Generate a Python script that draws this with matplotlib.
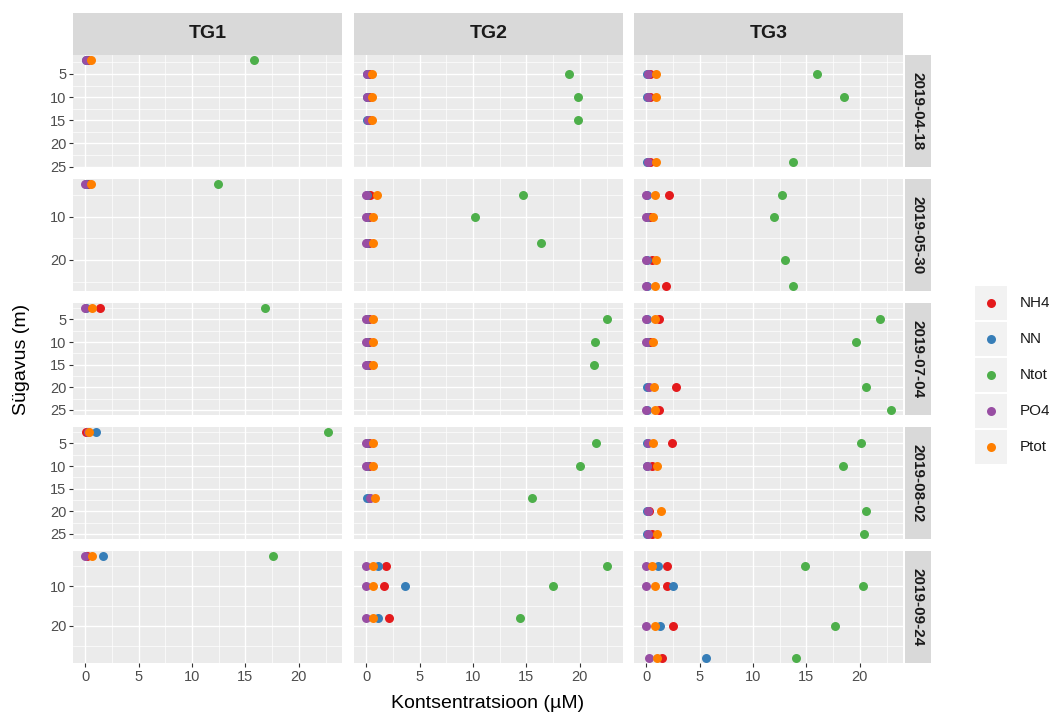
import numpy as np
import matplotlib.pyplot as plt
from matplotlib.patches import Rectangle

plt.rcParams['font.family'] = ['Liberation Sans', 'DejaVu Sans']

W, H = 1058, 715

dates = ['2019-04-18', '2019-05-30', '2019-07-04', '2019-08-02', '2019-09-24']
stations = ['TG1', 'TG2', 'TG3']
variables = ['NH4', 'NN', 'Ntot', 'PO4', 'Ptot']
colors = ['#E41A1C', '#377EB8', '#4DAF4A', '#984EA3', '#FF7F00']

# one entry per sample (date, station, depth)
sample_date = (['2019-04-18'] * 7 + ['2019-05-30'] * 8 + ['2019-07-04'] * 8
               + ['2019-08-02'] * 8 + ['2019-09-24'] * 8)
sample_station = (['TG1'] + ['TG2'] * 3 + ['TG3'] * 3
                  + (['TG1'] + ['TG2'] * 3 + ['TG3'] * 4) * 4)
sample_depth = [2, 5, 10, 15, 5, 10, 24,
                2.5, 5, 10, 16, 5, 10, 20, 26,
                2.5, 5, 10, 15, 5, 10, 20, 25,
                2.5, 5, 10, 17, 5, 10, 20, 25,
                2.5, 5, 10, 18, 5, 10, 20, 28]
nh4 = [0.3, 0.3, 0.3, 0.3, 0.4, 0.4, 0.4,
       0.3, 0.4, 0.3, 0.3, 2.1, 0.4, 0.5, 1.85,
       1.4, 0.3, 0.3, 0.3, 1.2, 0.4, 2.8, 1.2,
       0.1, 0.3, 0.3, 0.3, 2.4, 0.5, 0.3, 0.5,
       0.2, 1.85, 1.7, 2.1, 1.95, 1.95, 2.5, 1.45]
nn = [0.1, 0.1, 0.1, 0.1, 0.1, 0.1, 0.1,
      0.1, 0.1, 0.1, 0.1, 0.1, 0.1, 0.1, 0.1,
      0.1, 0.1, 0.1, 0.1, 0.1, 0.1, 0.1, 0.1,
      1.0, 0.1, 0.1, 0.1, 0.1, 0.1, 0.1, 0.1,
      1.7, 1.1, 3.65, 1.1, 1.1, 2.5, 1.3, 5.6]
ntot = [15.8, 19.0, 19.8, 19.8, 16.0, 18.5, 13.7,
        12.4, 14.7, 10.2, 16.4, 12.7, 12.0, 13.0, 13.7,
        16.8, 22.5, 21.4, 21.3, 21.9, 19.6, 20.6, 22.9,
        22.7, 21.5, 20.0, 15.5, 20.1, 18.4, 20.6, 20.4,
        17.6, 22.5, 17.5, 14.4, 14.9, 20.3, 17.7, 14.0]
po4 = [0.1, 0.1, 0.1, 0.2, 0.2, 0.2, 0.2,
       0.0, 0.0, 0.0, 0.0, 0.0, 0.0, 0.0, 0.0,
       0.0, 0.0, 0.0, 0.0, 0.0, 0.0, 0.3, 0.0,
       0.3, 0.0, 0.0, 0.4, 0.2, 0.1, 0.2, 0.2,
       0.0, 0.0, 0.0, 0.0, 0.0, 0.0, 0.0, 0.25]
ptot = [0.5, 0.5, 0.5, 0.5, 0.9, 0.9, 0.9,
        0.55, 1.0, 0.6, 0.6, 0.8, 0.6, 0.9, 0.8,
        0.6, 0.6, 0.6, 0.6, 0.8, 0.6, 0.7, 0.8,
        0.35, 0.6, 0.6, 0.8, 0.6, 1.0, 1.4, 1.0,
        0.6, 0.6, 0.6, 0.6, 0.5, 0.85, 0.8, 1.05]

row_breaks = [[5, 10, 15, 20, 25], [10, 20], [5, 10, 15, 20, 25],
              [5, 10, 15, 20, 25], [10, 20]]
x_breaks = [0, 5, 10, 15, 20]

sample_date = np.array(sample_date)
sample_station = np.array(sample_station)
sample_depth = np.array(sample_depth, dtype=float)
values = dict(zip(variables, [np.array(v) for v in (nh4, nn, ntot, po4, ptot)]))


def box(x0, y0, w, h):
    return [x0 / W, 1 - (y0 + h) / H, w / W, h / H]


allv = np.concatenate(list(values.values()))
xr = allv.max() - allv.min()
xlim = (allv.min() - 0.05 * xr, allv.max() + 0.05 * xr)
x_minor = [b + 2.5 for b in x_breaks]

col_left = [73, 354, 634]
row_top = [55, 179, 303, 427, 551]
pw, ph = 269, 112

fig = plt.figure(figsize=(W / 100, H / 100), dpi=100)

for i, d in enumerate(dates):
    dd = sample_depth[sample_date == d]
    yr = dd.max() - dd.min()
    ylim = (dd.max() + 0.05 * yr, dd.min() - 0.05 * yr)
    br = row_breaks[i]
    step = br[1] - br[0]
    y_minor = [br[0] - step / 2] + [b + step / 2 for b in br]
    y_minor = [t for t in y_minor if ylim[1] < t < ylim[0]]
    for j, s in enumerate(stations):
        ax = fig.add_axes(box(col_left[j], row_top[i], pw, ph))
        ax.set_facecolor('#EBEBEB')
        for sp in ax.spines.values():
            sp.set_visible(False)
        ax.set_xticks(x_breaks)
        ax.set_xticks(x_minor, minor=True)
        ax.set_yticks(br)
        ax.set_yticks(y_minor, minor=True)
        ax.grid(which='major', color='white', lw=1.0)
        ax.grid(which='minor', color='white', lw=0.5)
        ax.set_axisbelow(True)
        ax.tick_params(which='minor', length=0)
        ax.tick_params(which='major', length=2.8, width=0.8, color='#333333',
                       labelcolor='#4D4D4D', labelsize=10.5, pad=2)
        if j > 0:
            ax.tick_params(axis='y', length=0, labelleft=False)
        if i < len(dates) - 1:
            ax.tick_params(axis='x', length=0, labelbottom=False)
        m = (sample_date == d) & (sample_station == s)
        for v, c in zip(variables, colors):
            ax.scatter(values[v][m], sample_depth[m], s=42, color=c,
                       linewidths=0, zorder=3, clip_on=False)
        ax.set_xlim(xlim)
        ax.set_ylim(ylim)

    sax = fig.add_axes(box(905, row_top[i], 26, ph))
    sax.set_facecolor('#D9D9D9')
    sax.set_xticks([])
    sax.set_yticks([])
    for sp in sax.spines.values():
        sp.set_visible(False)
    sax.text(0.5, 0.5, d, rotation=-90, ha='center', va='center',
             fontsize=11, fontweight='bold', color='#1A1A1A',
             transform=sax.transAxes)

for j, s in enumerate(stations):
    sax = fig.add_axes(box(col_left[j], 13, pw, 42))
    sax.set_facecolor('#D9D9D9')
    sax.set_xticks([])
    sax.set_yticks([])
    for sp in sax.spines.values():
        sp.set_visible(False)
    sax.text(0.5, 0.5, s, ha='center', va='center', fontsize=14,
             fontweight='bold', color='#1A1A1A', transform=sax.transAxes)

fig.text(488 / W, 1 - 703 / H, 'Kontsentratsioon (µM)', ha='center',
         va='center', fontsize=14)
fig.text(22 / W, 1 - 359 / H, 'Sügavus (m)', ha='center', va='center',
         rotation=90, fontsize=14)

# legend
lax = fig.add_axes([0, 0, 1, 1])
lax.set_xlim(0, W)
lax.set_ylim(H, 0)
lax.axis('off')
lax.patch.set_alpha(0)
for k, (v, c) in enumerate(zip(variables, colors)):
    yc = 303 + k * 36
    lax.add_patch(Rectangle((975, yc - 17), 32, 34, color='#F2F2F2', lw=0))
    lax.scatter([991], [yc], s=42, color=c, linewidths=0)
    lax.text(1020, yc, v, ha='left', va='center', fontsize=11, color='#1A1A1A')

fig.savefig('out.png', dpi=100)
